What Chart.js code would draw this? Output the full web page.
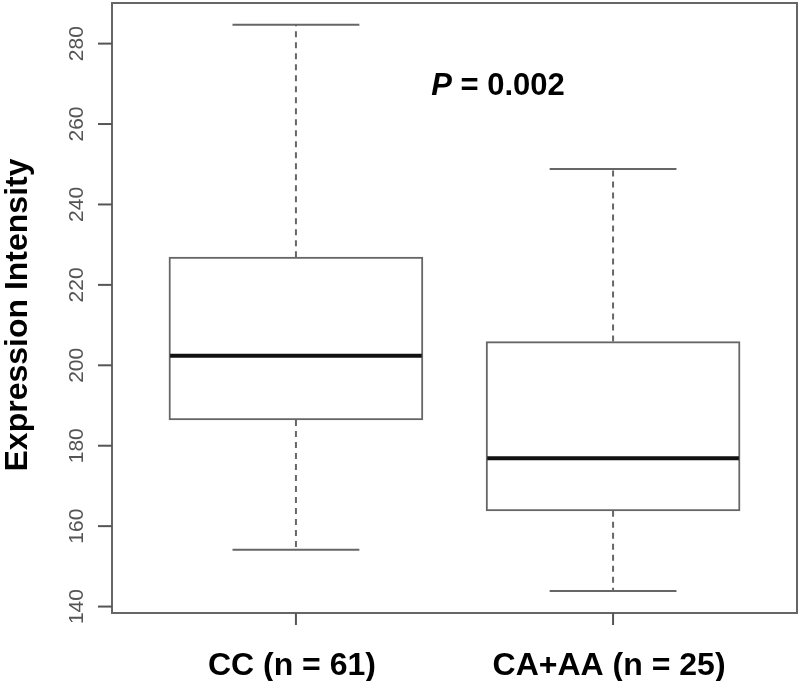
<!DOCTYPE html>
<html>
<head>
<meta charset="utf-8">
<title>Expression Intensity</title>
<script src="https://cdn.jsdelivr.net/npm/chart.js@4/dist/chart.umd.min.js"></script>
<style>
  body { margin: 0; background: #ffffff; }
  #wrap { width: 800px; height: 681px; }
</style>
</head>
<body>
<div id="wrap"><canvas id="boxChart" width="800" height="681"></canvas></div>
<script>
// values
const groups = ["CC (n = 61)", "CA+AA (n = 25)"];
const groupPos = [1, 2];
const whiskerLow = [154.1, 143.9];
const q1 = [186.4, 163.8];
const median = [202.4, 176.9];
const q3 = [226.9, 205.9];
const whiskerHigh = [284.7, 248.8];
const yTicks = [140, 160, 180, 200, 220, 240, 260, 280];
const pLabel = "0.002";

const FONT = "'Liberation Sans', Arial, Helvetica, sans-serif";

const boxPlotExtras = {
  id: "boxPlotExtras",
  afterDatasetsDraw(chart) {
    const ctx = chart.ctx;
    const x = chart.scales.x;
    const y = chart.scales.y;
    const area = chart.chartArea;
    // box is 0.8 units wide, staple half of that
    const boxHalf = (x.getPixelForValue(1.4) - x.getPixelForValue(1));
    const stapleHalf = boxHalf / 2;

    ctx.save();
    groupPos.forEach((g, i) => {
      const cx = x.getPixelForValue(g);

      // dashed whiskers
      ctx.strokeStyle = "#666";
      ctx.lineWidth = 2;
      ctx.setLineDash([6, 5]);
      ctx.beginPath();
      ctx.moveTo(cx, y.getPixelForValue(q3[i]));
      ctx.lineTo(cx, y.getPixelForValue(whiskerHigh[i]));
      ctx.moveTo(cx, y.getPixelForValue(q1[i]));
      ctx.lineTo(cx, y.getPixelForValue(whiskerLow[i]));
      ctx.stroke();

      // staples
      ctx.setLineDash([]);
      ctx.beginPath();
      [whiskerHigh[i], whiskerLow[i]].forEach((v) => {
        const py = y.getPixelForValue(v);
        ctx.moveTo(cx - stapleHalf, py);
        ctx.lineTo(cx + stapleHalf, py);
      });
      ctx.stroke();

      // median
      ctx.strokeStyle = "#111";
      ctx.lineWidth = 4;
      ctx.beginPath();
      ctx.moveTo(cx - boxHalf + 1, y.getPixelForValue(median[i]));
      ctx.lineTo(cx + boxHalf - 1, y.getPixelForValue(median[i]));
      ctx.stroke();
    });

    // frame
    ctx.strokeStyle = "#666";
    ctx.lineWidth = 2;
    ctx.strokeRect(area.left, area.top, area.right - area.left, area.bottom - area.top);

    // y ticks + rotated labels
    ctx.strokeStyle = "#555";
    ctx.fillStyle = "#555";
    ctx.font = "21px " + FONT;
    ctx.textAlign = "center";
    ctx.textBaseline = "alphabetic";
    yTicks.forEach((t) => {
      const py = y.getPixelForValue(t);
      ctx.beginPath();
      ctx.moveTo(area.left - 14, py);
      ctx.lineTo(area.left, py);
      ctx.stroke();
      ctx.save();
      ctx.translate(area.left - 29, py);
      ctx.rotate(-Math.PI / 2);
      ctx.fillText(String(t), 0, 0);
      ctx.restore();
    });

    // x ticks + labels
    ctx.fillStyle = "#000";
    ctx.font = "bold 32px " + FONT;
    groupPos.forEach((g, i) => {
      const px = x.getPixelForValue(g);
      ctx.beginPath();
      ctx.moveTo(px, area.bottom);
      ctx.lineTo(px, area.bottom + 12);
      ctx.stroke();
      ctx.fillText(groups[i], px - 4, area.bottom + 62);
    });

    // y axis title
    ctx.save();
    ctx.translate(27, (area.top + area.bottom) / 2 + 7);
    ctx.rotate(-Math.PI / 2);
    ctx.fillText("Expression Intensity", 0, 0);
    ctx.restore();

    // P value
    const px = x.getPixelForValue(1.637);
    const py = y.getPixelForValue(270) + 11;
    ctx.font = "italic bold 31px " + FONT;
    const pW = ctx.measureText("P").width;
    ctx.font = "bold 31px " + FONT;
    const restW = ctx.measureText(" = " + pLabel).width;
    const startX = px - (pW + restW) / 2;
    ctx.textAlign = "left";
    ctx.font = "italic bold 31px " + FONT;
    ctx.fillText("P", startX, py);
    ctx.font = "bold 31px " + FONT;
    ctx.fillText(" = " + pLabel, startX + pW, py);

    ctx.restore();
  },
};

document.addEventListener("DOMContentLoaded", function () {
  const ctx = document.getElementById("boxChart").getContext("2d");
  new Chart(ctx, {
    type: "bar",
    data: {
      datasets: [
        {
          label: "IQR",
          data: groupPos.map((g, i) => ({ x: g, y: [q1[i], q3[i]] })),
          backgroundColor: "#ffffff",
          borderColor: "#666",
          borderWidth: 2,
          borderSkipped: false,
          barThickness: 254,
        },
      ],
    },
    options: {
      responsive: false,
      animation: false,
      layout: { padding: { left: 112, right: 3, top: 3, bottom: 68 } },
      plugins: {
        legend: { display: false },
        tooltip: { enabled: false },
      },
      scales: {
        x: {
          type: "linear",
          display: false,
          offset: false,
          bounds: "data",
          min: 0.42,
          max: 2.58,
          ticks: { stepSize: 1, includeBounds: false },
        },
        y: {
          display: false,
          min: 138.4,
          max: 290.1,
        },
      },
    },
    plugins: [boxPlotExtras],
  });
});
</script>
</body>
</html>
